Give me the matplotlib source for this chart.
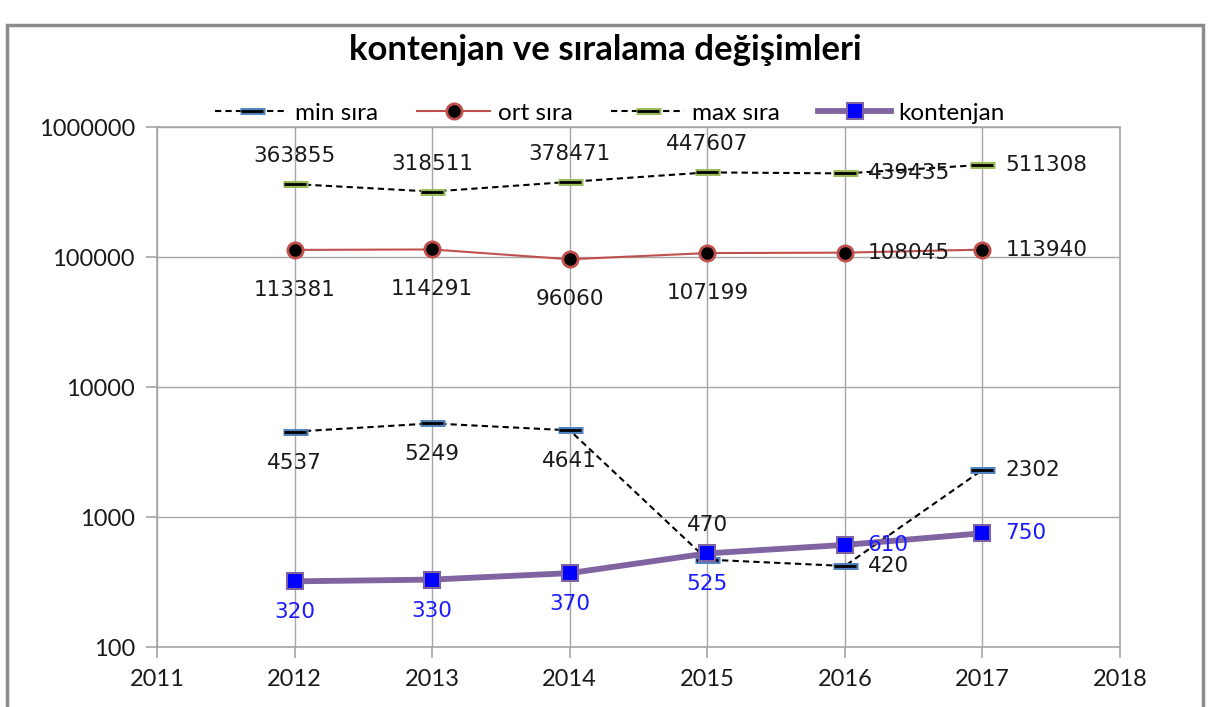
import matplotlib
matplotlib.use("Agg")
import matplotlib.pyplot as plt
from matplotlib.legend_handler import HandlerTuple
from matplotlib.patches import Rectangle

years = [2012, 2013, 2014, 2015, 2016, 2017]
min_sira = [4537, 5249, 4641, 470, 420, 2302]
ort_sira = [113381, 114291, 96060, 107199, 108045, 113940]
max_sira = [363855, 318511, 378471, 447607, 439435, 511308]
kontenjan = [320, 330, 370, 525, 610, 750]

# where each data label goes
min_pos = ["below", "below", "below", "above", "right", "right"]
ort_pos = ["below", "below", "below", "below", "right", "right"]
max_pos = ["above", "above", "above", "above", "right", "right"]
kon_pos = ["below", "below", "below", "below", "right", "right"]

tick_font = "Lato"
label_font = "DejaVu Sans"
grid_col = "#a6a6a6"

fig = plt.figure(figsize=(12.09, 7.07), dpi=100)
ax = fig.add_axes([157 / 1209, 1 - 647 / 707, (1120 - 157) / 1209, (647 - 127) / 707])

# outer frame of the chart
fig.patches.append(Rectangle((7, -20), 1196, 702, transform=None, fill=False,
                             edgecolor="#8c8c8c", linewidth=2.5))

ln_min, = ax.plot(years, min_sira, color="black", ls=(0, (3, 2)), lw=1.5,
                  marker="_", ms=18, mew=5, mec="#4f81bd", zorder=3)
mk_min, = ax.plot(years, min_sira, ls="none", marker="_", ms=15.5, mew=2,
                  mec="black", zorder=4)
ln_ort, = ax.plot(years, ort_sira, color="#c0504d", lw=1.5, marker="o", ms=11,
                  mfc="black", mec="#c0504d", mew=2, zorder=3)
ln_max, = ax.plot(years, max_sira, color="black", ls=(0, (3, 2)), lw=1.5,
                  marker="_", ms=18, mew=5, mec="#9bbb59", zorder=3)
mk_max, = ax.plot(years, max_sira, ls="none", marker="_", ms=15.5, mew=2,
                  mec="black", zorder=4)
ln_kon, = ax.plot(years, kontenjan, color="#8064a2", lw=4.2, marker="s", ms=12,
                  mfc="#0000ff", mec="#8064a2", mew=1.5, zorder=5)


def put_labels(values, places, color, up, down):
    for x, v, p in zip(years, values, places):
        if p == "above":
            off, ha = (0, up), "center"
        elif p == "below":
            off, ha = (0, -down), "center"
        else:
            off, ha = (23, 0), "left"
        ax.annotate(str(v), (x, v), xytext=off, textcoords="offset pixels",
                    ha=ha, va="center", fontsize=15.5, color=color,
                    family=label_font, zorder=6)


put_labels(min_sira, min_pos, "#1a1a1a", 35, 31)
put_labels(ort_sira, ort_pos, "#1a1a1a", 30, 40)
put_labels(max_sira, max_pos, "#1a1a1a", 28, 30)
put_labels(kontenjan, kon_pos, "#1a1aff", 30, 31)

ax.set_yscale("log")
ax.set_ylim(100, 1000000)
ax.set_xlim(2011, 2018)
ax.set_xticks(range(2011, 2019))
ax.set_yticks([100, 1000, 10000, 100000, 1000000])
ax.set_yticklabels(["100", "1000", "10000", "100000", "1000000"])
ax.yaxis.set_minor_locator(matplotlib.ticker.NullLocator())
ax.grid(True, color=grid_col, lw=1)
ax.set_axisbelow(True)
for s in ax.spines.values():
    s.set_color(grid_col)
    s.set_linewidth(1.2)
ax.tick_params(axis="both", colors=grid_col, labelcolor="#1a1a1a", length=8,
               width=1.2, labelsize=17, pad=8)
for t in ax.get_xticklabels() + ax.get_yticklabels():
    t.set_family(tick_font)

fig.text(605 / 1209, 1 - 50 / 707, "kontenjan ve sıralama değişimleri",
         ha="center", va="center", fontsize=25, fontweight="bold",
         family=tick_font)

leg = fig.legend([(ln_min, mk_min), ln_ort, (ln_max, mk_max), ln_kon],
                 ["min sıra", "ort sıra", "max sıra", "kontenjan"],
                 handler_map={tuple: HandlerTuple(ndivide=1)},
                 loc="center", bbox_to_anchor=(610 / 1209, 1 - 113 / 707),
                 ncol=4, frameon=False, handlelength=3.0, handletextpad=0.3,
                 columnspacing=1.6, prop={"family": tick_font, "size": 17.5})

fig.savefig("out.png", dpi=100)
